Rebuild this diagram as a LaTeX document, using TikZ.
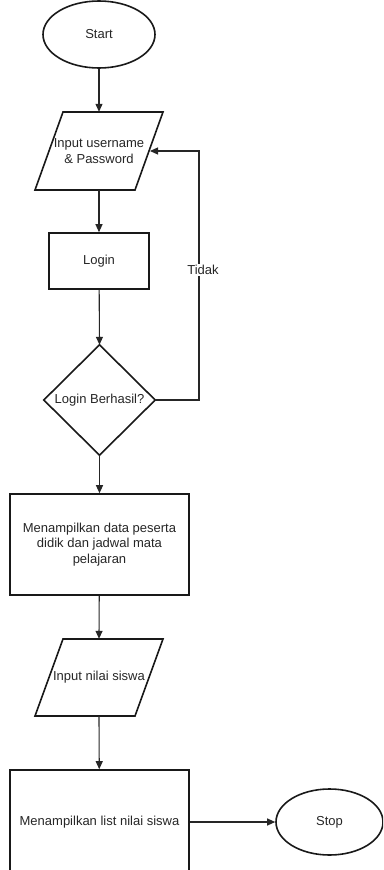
\documentclass[tikz,border=0pt]{standalone}
\usepackage{fontspec}
\setmainfont{Liberation Sans}
\usetikzlibrary{shapes.geometric,arrows.meta}
\begin{document}
\begin{tikzpicture}[x=1pt,y=-1pt,
  shapeline/.style={draw=black!90, line width=1.6pt},
  conn/.style={draw=black!85, line width=1.1pt, -{Triangle[length=8pt,width=7pt]}},
  lbl/.style={font=\fontsize{13}{15.5}\selectfont, align=center, inner sep=0pt, text=black!85},
  procbox/.style={shapeline, rectangle, lbl},
  terminal/.style={shapeline, ellipse, lbl},
  edgelbl/.style={lbl, fill=white, inner sep=1pt}
]
\useasboundingbox (0,0) rectangle (383,870);
\clip (0,0) rectangle (383,870);

% Start
\node[terminal, minimum width=112pt, minimum height=67pt] (start) at (99,34.5) {Start};

% Input username & Password (parallelogram)
\node[lbl, minimum width=128pt, minimum height=78pt] (in1) at (99,151) {Input username\\\& Password};
\draw[shapeline] (63,112) -- (163,112) -- (135,190) -- (35,190) -- cycle;
\coordinate (in1e) at (150,151);

% Login
\node[procbox, minimum width=100pt, minimum height=56pt] (login) at (99,261) {Login};

% Decision
\node[lbl, minimum width=111pt, minimum height=110pt] (dec) at (99.5,400) {Login Berhasil?};
\draw[shapeline] (dec.north) -- (dec.east) -- (dec.south) -- (dec.west) -- cycle;

% Menampilkan data
\node[procbox, minimum width=179pt, minimum height=101pt] (show1) at (99.5,544.5)
  {Menampilkan data peserta\\didik dan jadwal mata\\pelajaran};

% Input nilai siswa (parallelogram)
\node[lbl, minimum width=128pt, minimum height=77pt] (in2) at (99,677.5) {Input nilai siswa};
\draw[shapeline] (63,639) -- (163,639) -- (135,716) -- (35,716) -- cycle;

% Menampilkan list nilai siswa
\node[procbox, minimum width=179pt, minimum height=104pt] (show2) at (99.5,822) {Menampilkan list nilai siswa};

% Stop
\node[terminal, minimum width=107pt, minimum height=66pt] (stop) at (329.5,822) {Stop};

% Connectors
\draw[conn] (start) -- (in1.north);
\draw[conn] (in1.south) -- (login);
\draw[conn] (login) -- (dec.north);
\draw[conn] (dec.south) -- (show1);
\draw[conn] (show1) -- (in2.north);
\draw[conn] (in2.south) -- (show2);
\draw[conn] (show2) -- (stop);

\coordinate (fb) at (199,151);
\draw[conn] (dec.east) -| (fb) -- (in1e);
\node[edgelbl] (tidak) at (203,270) {Tidak};
\end{tikzpicture}
\end{document}
